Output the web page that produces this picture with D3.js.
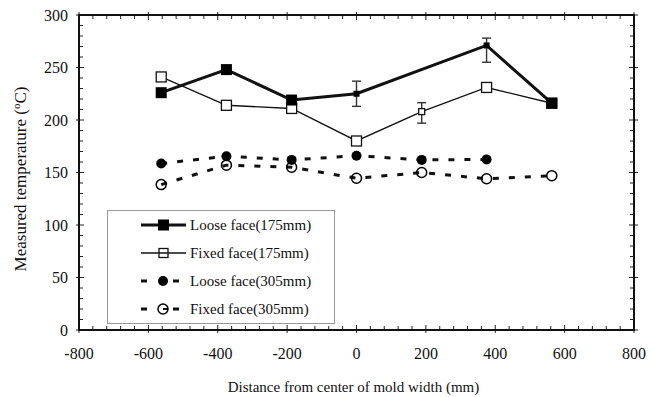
<!DOCTYPE html>
<html>
<head>
<meta charset="utf-8">
<script src="https://cdn.jsdelivr.net/npm/d3@7"></script>
<style>
  body { margin: 0; background: #fff; }
  text { font-family: "Liberation Serif", "Times New Roman", serif; fill: #111; }
</style>
</head>
<body>
<div id="chart"></div>
<script>
// positions along the mold width (mm)
var positions = [-563, -375, -187, 0, 188, 375, 563];

// measured temperatures, null = not measured
var looseFace175 = [226, 248, 219, 225, null, 271, 216];
var fixedFace175 = [241, 214, 211, 180, 208, 231, 216];
var looseFace305 = [158.5, 165.5, 162, 166, 162, 162.5, null];
var fixedFace305 = [138.5, 157, 155, 144.5, 150, 144, 147];

// error bars: [position, low, high]
var looseFace175Err = [[0, 213, 237], [375, 255, 278]];
var fixedFace175Err = [[188, 197, 216.5]];

var xTicks = [-800, -600, -400, -200, 0, 200, 400, 600, 800];
var yTicks = [0, 50, 100, 150, 200, 250, 300];

var seriesNames = ["Loose face(175mm)", "Fixed face(175mm)", "Loose face(305mm)", "Fixed face(305mm)"];

var W = 652, H = 397;
var margin = {top: 15, right: 18, bottom: 67, left: 79},
    width = W - margin.left - margin.right,
    height = H - margin.top - margin.bottom;

var svg = d3.select("#chart").append("svg")
    .attr("width", W)
    .attr("height", H);

var g = svg.append("g")
    .attr("transform", "translate(" + margin.left + "," + margin.top + ")");

var X = d3.scaleLinear().domain([-800, 800]).range([0, width]);
var Y = d3.scaleLinear().domain([0, 300]).range([height, 0]);

// minor ticks
var xMinor = d3.range(-800, 801, 40).filter(function(v) { return v % 200 !== 0; });
var yMinor = d3.range(0, 301, 10).filter(function(v) { return v % 50 !== 0; });

var ticks = g.append("g").attr("stroke", "#222").attr("stroke-width", 1);
xMinor.forEach(function(v) {
    ticks.append("line").attr("x1", X(v)).attr("x2", X(v)).attr("y1", height).attr("y2", height - 4);
    ticks.append("line").attr("x1", X(v)).attr("x2", X(v)).attr("y1", 0).attr("y2", 4);
});
xTicks.forEach(function(v) {
    ticks.append("line").attr("x1", X(v)).attr("x2", X(v)).attr("y1", height + 3).attr("y2", height - 5);
    ticks.append("line").attr("x1", X(v)).attr("x2", X(v)).attr("y1", -3).attr("y2", 5);
});
yMinor.forEach(function(v) {
    ticks.append("line").attr("x1", 0).attr("x2", 4).attr("y1", Y(v)).attr("y2", Y(v));
    ticks.append("line").attr("x1", width).attr("x2", width - 4).attr("y1", Y(v)).attr("y2", Y(v));
});
yTicks.forEach(function(v) {
    ticks.append("line").attr("x1", -3).attr("x2", 5).attr("y1", Y(v)).attr("y2", Y(v));
    ticks.append("line").attr("x1", width + 4).attr("x2", width - 5).attr("y1", Y(v)).attr("y2", Y(v));
});

// frame
g.append("rect")
    .attr("width", width).attr("height", height)
    .attr("fill", "none").attr("stroke", "#111").attr("stroke-width", 2);

// tick labels
g.selectAll(".xl").data(xTicks).enter().append("text")
    .attr("x", function(d) { return X(d); })
    .attr("y", height + 29)
    .attr("text-anchor", "middle")
    .style("font-size", "16px")
    .text(function(d) { return d; });

g.selectAll(".yl").data(yTicks).enter().append("text")
    .attr("x", -11)
    .attr("y", function(d) { return Y(d) + 5.5; })
    .attr("text-anchor", "end")
    .style("font-size", "16px")
    .text(function(d) { return d; });

// axis titles
svg.append("text")
    .attr("x", margin.left + width / 2 - 3)
    .attr("y", 392)
    .attr("text-anchor", "middle")
    .style("font-size", "15px")
    .text("Distance from center of mold width (mm)");

var yt = svg.append("text")
    .attr("transform", "translate(26,179) rotate(-90)")
    .attr("text-anchor", "middle")
    .style("font-size", "17px");
yt.append("tspan").text("Measured temperature (");
yt.append("tspan").attr("baseline-shift", "super").style("font-size", "11px").text("o");
yt.append("tspan").text("C)");

function pts(vals) {
    return positions.map(function(p, i) { return [p, vals[i]]; })
        .filter(function(d) { return d[1] !== null; });
}

var line = d3.line()
    .x(function(d) { return X(d[0]); })
    .y(function(d) { return Y(d[1]); });

function hasErr(errs, p) {
    return errs.some(function(e) { return e[0] === p; });
}

function drawErr(errs) {
    var eg = g.append("g").attr("stroke", "#333").attr("stroke-width", 1.4);
    errs.forEach(function(e) {
        eg.append("line").attr("x1", X(e[0])).attr("x2", X(e[0])).attr("y1", Y(e[1])).attr("y2", Y(e[2]));
        eg.append("line").attr("x1", X(e[0]) - 4.5).attr("x2", X(e[0]) + 4.5).attr("y1", Y(e[1])).attr("y2", Y(e[1]));
        eg.append("line").attr("x1", X(e[0]) - 4.5).attr("x2", X(e[0]) + 4.5).attr("y1", Y(e[2])).attr("y2", Y(e[2]));
    });
}

// 305mm series (dashed)
g.append("path").datum(pts(fixedFace305)).attr("d", line)
    .attr("fill", "none").attr("stroke", "#111").attr("stroke-width", 3)
    .attr("stroke-dasharray", "6,10");
g.append("path").datum(pts(looseFace305)).attr("d", line)
    .attr("fill", "none").attr("stroke", "#111").attr("stroke-width", 3)
    .attr("stroke-dasharray", "6,10");

g.selectAll(".lc").data(pts(looseFace305)).enter().append("circle")
    .attr("cx", function(d) { return X(d[0]); })
    .attr("cy", function(d) { return Y(d[1]); })
    .attr("r", 5).attr("fill", "#000");
g.selectAll(".fc").data(pts(fixedFace305)).enter().append("circle")
    .attr("cx", function(d) { return X(d[0]); })
    .attr("cy", function(d) { return Y(d[1]); })
    .attr("r", 5).attr("fill", "none").attr("stroke", "#000").attr("stroke-width", 1.5);

// fixed face 175mm
g.append("path").datum(pts(fixedFace175)).attr("d", line)
    .attr("fill", "none").attr("stroke", "#111").attr("stroke-width", 1.4);
drawErr(fixedFace175Err);
g.selectAll(".fs").data(pts(fixedFace175)).enter().append("rect")
    .each(function(d) {
        var s = hasErr(fixedFace175Err, d[0]) ? 6 : 10;
        d3.select(this)
            .attr("x", X(d[0]) - s / 2).attr("y", Y(d[1]) - s / 2)
            .attr("width", s).attr("height", s);
    })
    .attr("fill", "#fff").attr("stroke", "#111").attr("stroke-width", 1.3);

// loose face 175mm
g.append("path").datum(pts(looseFace175)).attr("d", line)
    .attr("fill", "none").attr("stroke", "#111").attr("stroke-width", 3);
drawErr(looseFace175Err);
g.selectAll(".ls").data(pts(looseFace175)).enter().append("rect")
    .each(function(d) {
        var s = hasErr(looseFace175Err, d[0]) ? 6 : 11;
        d3.select(this)
            .attr("x", X(d[0]) - s / 2).attr("y", Y(d[1]) - s / 2)
            .attr("width", s).attr("height", s);
    })
    .attr("fill", "#000");

// legend
var lg = svg.append("g");
lg.append("rect")
    .attr("x", 107.5).attr("y", 210.5).attr("width", 227).attr("height", 113)
    .attr("fill", "#fff").attr("stroke", "#999").attr("stroke-width", 1);

var legRows = [225, 253, 281, 309];
seriesNames.forEach(function(name, i) {
    var y = legRows[i];
    if (i < 2) {
        lg.append("line").attr("x1", 141).attr("x2", 186).attr("y1", y).attr("y2", y)
            .attr("stroke", "#111").attr("stroke-width", i === 0 ? 3 : 1.4);
    } else {
        lg.append("line").attr("x1", 141).attr("x2", 180).attr("y1", y).attr("y2", y)
            .attr("stroke", "#111").attr("stroke-width", 3).attr("stroke-dasharray", "6,26");
    }
    if (i === 0) {
        lg.append("rect").attr("x", 158).attr("y", y - 5.5).attr("width", 11).attr("height", 11).attr("fill", "#000");
    } else if (i === 1) {
        lg.append("rect").attr("x", 159).attr("y", y - 4.5).attr("width", 9).attr("height", 9)
            .attr("fill", "none").attr("stroke", "#111").attr("stroke-width", 1.3);
    } else if (i === 2) {
        lg.append("circle").attr("cx", 163).attr("cy", y).attr("r", 5).attr("fill", "#000");
    } else {
        lg.append("line").attr("x1", 163).attr("x2", 168).attr("y1", y).attr("y2", y)
            .attr("stroke", "#111").attr("stroke-width", 2);
        lg.append("circle").attr("cx", 163).attr("cy", y).attr("r", 5)
            .attr("fill", "none").attr("stroke", "#000").attr("stroke-width", 1.5);
    }
    lg.append("text").attr("x", 190).attr("y", y + 5)
        .style("font-size", "15px")
        .text(name);
});
</script>
</body>
</html>
